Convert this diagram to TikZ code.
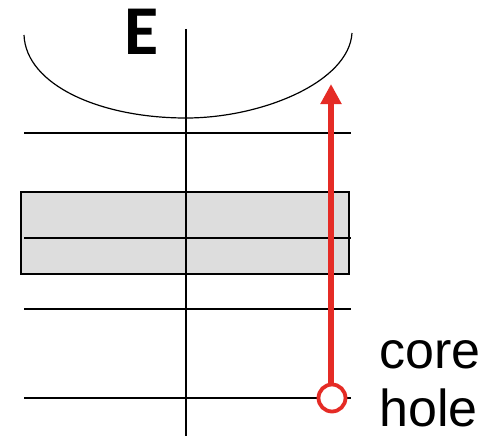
\documentclass[tikz,border=0pt]{standalone}
\usepackage{fontspec}
\setmainfont{Liberation Sans}
\newfontfamily\labelfont{Carlito}
\usetikzlibrary{arrows.meta}
\definecolor{holered}{RGB}{229,43,37}
\definecolor{bandgray}{RGB}{221,221,221}
\tikzset{
    level/.style={line width=1.2pt},
    holedot/.style={circle, draw=holered, line width=3.8pt, fill=white, minimum size=27pt, inner sep=0pt},
    excite/.style={draw=holered, line width=5.5pt, -{Triangle[width=20pt, length=20pt]}}
}
\begin{document}
\begin{tikzpicture}[x=1pt, y=-1pt]
    \useasboundingbox (0,0) rectangle (489,436);

    % band
    \draw[fill=bandgray, line width=1.3pt] (21,192) rectangle (349,274);

    % levels
    \foreach \y in {133,238,309,398} {
        \draw[level] (24,\y) -- (351,\y);
    }

    % axis and energy curve
    \draw[level] (186,29) -- (186,436);
    \draw[level] (24,35) .. controls (26,85) and (100,118) .. (186,118)
        .. controls (262,118) and (349,82) .. (352,33);
    \node[font=\labelfont\bfseries\fontsize{70}{70}\selectfont, inner sep=0pt] (energy) at (142,32) {E};

    % core hole
    \coordinate (tip) at (331,84);
    \node[holedot] (hole) at (332,398) {};
    \draw[excite] (hole.north -| tip) -- (tip);
    \node[font=\fontsize{52}{58}\selectfont, align=left, anchor=west, inner sep=0pt] (label) at (379,384) {core\\hole};
\end{tikzpicture}
\end{document}
